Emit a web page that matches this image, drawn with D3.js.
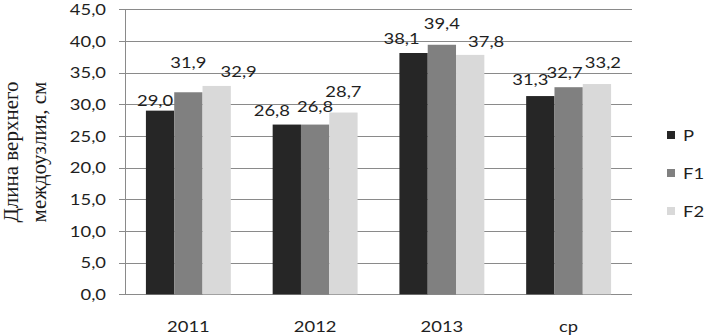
<!DOCTYPE html>
<html>
<head>
<meta charset="utf-8">
<script src="https://cdn.jsdelivr.net/npm/d3@7"></script>
<style>
  body { margin: 0; background: #fff; }
  text { font-family: Lato, "Open Sans", sans-serif; fill: #1f1f1f; }
  .title { font-family: "Liberation Serif", "DejaVu Serif", serif; font-style: normal; fill: #1a1a1a; }
</style>
</head>
<body>
<div id="chart"></div>
<script>

var years = ["2011", "2012", "2013", "ср"];
var seriesNames = ["P", "F1", "F2"];
var valP  = [29.0, 26.8, 38.1, 31.3];
var valF1 = [31.9, 26.8, 39.4, 32.7];
var valF2 = [32.9, 28.7, 37.8, 33.2];
var yTicks = [0, 5, 10, 15, 20, 25, 30, 35, 40, 45];
var colors = ["#262626", "#808080", "#d9d9d9"];

// where Excel put each data label, relative to the top centre of its bar
var labelNudge = [
  [[-5, -5], [0, -24], [22, -9]],
  [[-15, -9], [0, -13], [0, -16]],
  [[-12, -9], [0, -16], [16, -8]],
  [[-10, -11], [-4, -9], [6, -16]]
];

var W = 704, H = 336;
var svg = d3.select("#chart").append("svg")
    .attr("width", W)
    .attr("height", H);

var x0 = d3.scaleBand()
    .domain(years)
    .range([125, 632])
    .paddingInner(0.33)
    .paddingOuter(0.165);
var x1 = d3.scaleBand()
    .domain(seriesNames)
    .range([0, x0.bandwidth()]);
var y = d3.scaleLinear().domain([0, 45]).range([294.3, 9.3]);

var fmt = function(v) { return v.toFixed(1).replace(".", ","); };
var sx = 1.15; // stretch text a bit, reference font is wide

// gridlines
svg.append("g").selectAll("line")
    .data(yTicks)
  .enter().append("line")
    .attr("x1", 119).attr("x2", 632)
    .attr("y1", function(d) { return Math.round(y(d)) + 0.5; })
    .attr("y2", function(d) { return Math.round(y(d)) + 0.5; })
    .style("stroke", "#8a8a8a")
    .style("stroke-width", 1);

// y axis line
svg.append("line")
    .attr("x1", 125.5).attr("x2", 125.5)
    .attr("y1", y(45)).attr("y2", y(0))
    .style("stroke", "#8a8a8a");

// y tick labels
svg.append("g").selectAll("text")
    .data(yTicks)
  .enter().append("text")
    .attr("transform", function(d) { return "translate(106," + y(d) + ") scale(" + sx + ",1)"; })
    .attr("dy", "0.35em")
    .style("text-anchor", "end")
    .style("font-size", "16px")
    .text(fmt);

// bars
var data = years.map(function(yr, i) {
  return { year: yr, vals: [valP[i], valF1[i], valF2[i]], idx: i };
});

var groups = svg.append("g").selectAll("g")
    .data(data)
  .enter().append("g")
    .attr("transform", function(d) { return "translate(" + x0(d.year) + ",0)"; });

groups.selectAll("rect")
    .data(function(d) { return d.vals.map(function(v, j) { return { v: v, s: seriesNames[j], j: j }; }); })
  .enter().append("rect")
    .attr("x", function(d) { return x1(d.s); })
    .attr("width", x1.bandwidth())
    .attr("y", function(d) { return y(d.v); })
    .attr("height", function(d) { return y(0) - y(d.v); })
    .style("fill", function(d) { return colors[d.j]; });

// data labels
groups.selectAll("text")
    .data(function(d) { return d.vals.map(function(v, j) { return { v: v, s: seriesNames[j], j: j, i: d.idx }; }); })
  .enter().append("text")
    .attr("transform", function(d) {
      var n = labelNudge[d.i][d.j];
      var cx = x1(d.s) + x1.bandwidth() / 2 + n[0];
      var cy = y(d.v) + n[1];
      return "translate(" + cx + "," + cy + ") scale(" + sx + ",1)";
    })
    .style("text-anchor", "middle")
    .style("font-size", "16px")
    .text(function(d) { return fmt(d.v); });

// x labels
svg.append("g").selectAll("text")
    .data(years)
  .enter().append("text")
    .attr("transform", function(d) { return "translate(" + (x0(d) + x0.bandwidth() / 2) + ",332) scale(" + sx + ",1)"; })
    .style("text-anchor", "middle")
    .style("font-size", "16px")
    .text(function(d) { return d; });

// legend
var legend = svg.append("g").selectAll("g")
    .data(seriesNames)
  .enter().append("g")
    .attr("transform", function(d, i) { return "translate(667," + [135, 173, 211][i] + ")"; });

legend.append("rect")
    .attr("x", 0).attr("y", -4)
    .attr("width", 8).attr("height", 8)
    .style("fill", function(d, i) { return colors[i]; });

legend.append("text")
    .attr("transform", "translate(16,0) scale(" + sx + ",1)")
    .attr("dy", "0.36em")
    .style("font-size", "16px")
    .text(function(d) { return d; });

// y title, two lines
var title = svg.append("text")
    .attr("class", "title")
    .attr("transform", "translate(0,152) rotate(-90)")
    .style("text-anchor", "middle")
    .style("font-size", "21px");
title.append("tspan").attr("x", 0).attr("y", 18).text("Длина верхнего");
title.append("tspan").attr("x", 0).attr("y", 46).text("междоузлия, см");

</script>
</body>
</html>
